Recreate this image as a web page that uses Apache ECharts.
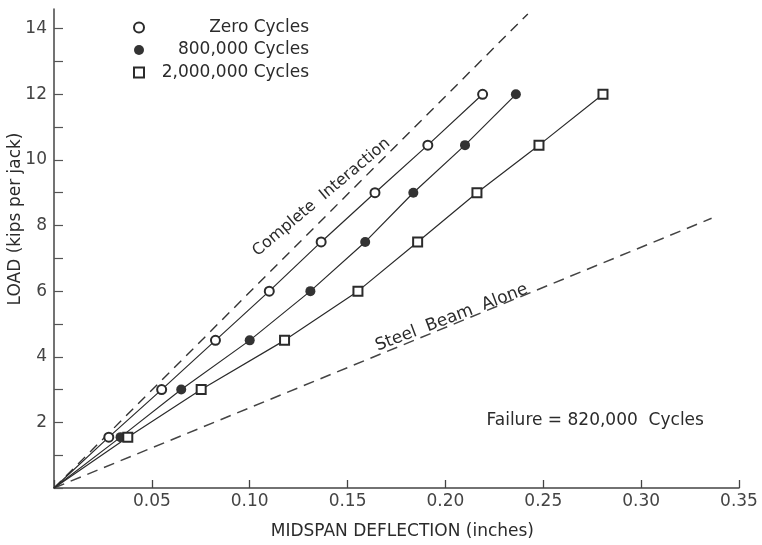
<!DOCTYPE html>
<html>
<head>
<meta charset="utf-8">
<script src="https://cdn.jsdelivr.net/npm/echarts@6/dist/echarts.min.js"></script>
<style>html,body{margin:0;padding:0;background:#fff}#c{width:762px;height:545px}</style>
</head>
<body>
<div id="c"></div>
<script>
// ---- data ----
const seriesNames = ['Zero Cycles', '800,000 Cycles', '2,000,000 Cycles'];
const loadLevels = [1.55, 3.0, 4.5, 6.0, 7.5, 9.0, 10.45, 12.0];
const zeroDefl = [0.028, 0.055, 0.0825, 0.110, 0.1365, 0.164, 0.191, 0.219];
const midDefl = [0.034, 0.065, 0.100, 0.131, 0.159, 0.1836, 0.210, 0.236];
const highDefl = [0.0377, 0.0752, 0.1178, 0.1553, 0.1858, 0.2161, 0.2478, 0.2805];
const completeX = [0, 0.2421];
const completeY = [0, 14.45];
const steelX = [0, 0.336];
const steelY = [0, 8.22];
const xTicks = [0.05, 0.10, 0.15, 0.20, 0.25, 0.30, 0.35];
const yTicks = [2, 4, 6, 8, 10, 12, 14];
const xTitle = 'MIDSPAN DEFLECTION (inches)';
const yTitle = 'LOAD (kips per jack)';
const annotations = [
  {text: 'Complete  Interaction', x: 0.1367, y: 8.86, angle: 40, size: 16},
  {text: 'Steel  Beam  Alone', x: 0.2032, y: 5.19, angle: 21, size: 17}
];
const failureNote = {text: 'Failure = 820,000  Cycles', x: 0.221, y: 2.04};

const FONT = 'DejaVu Sans';
const FS = 17;
const INK = '#2b2b2b';

function curve(xs, ys) {
  const d = [{value: [0, 0], symbol: 'none'}];
  xs.forEach((x, i) => d.push([x, ys[i]]));
  return d;
}
function pairs(xs, ys) { return xs.map((x, i) => [x, ys[i]]); }

const symbols = ['emptyCircle', 'circle', 'emptyRect'];
const sizes = [9, 10, 9];
const defls = [zeroDefl, midDefl, highDefl];

const chart = echarts.init(document.getElementById('c'), null, {renderer: 'canvas'});

const series = seriesNames.map((n, i) => ({
  name: n, type: 'line', data: curve(defls[i], loadLevels),
  symbol: symbols[i], symbolSize: sizes[i], showSymbol: true,
  lineStyle: {color: INK, width: 1.2},
  itemStyle: {color: i === 1 ? '#333' : INK, borderWidth: 1.1},
  emphasis: {disabled: true}, z: 3, animation: false
}));
series.push({
  name: 'complete', type: 'line', data: pairs(completeX, completeY), symbol: 'none',
  lineStyle: {color: '#333', width: 1.4, type: [10, 7]}, animation: false, z: 2
});
series.push({
  name: 'steel', type: 'line', data: pairs(steelX, steelY), symbol: 'none',
  lineStyle: {color: '#444', width: 1.5, type: [11, 7]}, animation: false, z: 2
});

chart.setOption({
  backgroundColor: '#fff',
  animation: false,
  grid: {left: 54, right: 23, top: 9, bottom: 57, containLabel: false},
  legend: {
    orient: 'vertical', left: 128, top: 14, itemGap: 5.5, itemWidth: 10, itemHeight: 10,
    selectedMode: false,
    data: seriesNames.map((n, i) => ({name: n, icon: symbols[i],
      itemStyle: {color: i === 1 ? '#333' : INK, borderWidth: 1.1}})),
    formatter: '{t|{name}}',
    textStyle: {fontFamily: FONT, fontSize: FS, color: INK,
      rich: {t: {width: 160, align: 'right', lineHeight: 18, fontFamily: FONT, fontSize: FS, color: INK}}}
  },
  xAxis: {
    type: 'value', min: 0, max: 0.35, interval: 0.05,
    axisLine: {lineStyle: {color: '#444', width: 1.5}},
    axisTick: {inside: true, length: 8, lineStyle: {color: '#444', width: 1.3}},
    axisLabel: {fontFamily: FONT, fontSize: FS, color: '#444', margin: 5,
      formatter: v => xTicks.some(t => Math.abs(t - v) < 1e-9) ? v.toFixed(2) : ''},
    splitLine: {show: false}
  },
  yAxis: {
    type: 'value', min: 0, max: 14.6, interval: 1,
    axisLine: {show: true, lineStyle: {color: '#444', width: 1.5}},
    axisTick: {inside: true, length: 9, lineStyle: {color: '#555', width: 1.2}},
    axisLabel: {fontFamily: FONT, fontSize: FS, color: '#444', margin: 7, showMaxLabel: false,
      formatter: v => yTicks.indexOf(Math.round(v * 1000) / 1000) >= 0 ? String(v) : ''},
    splitLine: {show: false}
  },
  series: series
});

// text placed via data coordinates
const g = annotations.map(a => {
  const p = chart.convertToPixel({gridIndex: 0}, [a.x, a.y]);
  return {type: 'text', x: p[0], y: p[1], rotation: a.angle * Math.PI / 180,
    style: {text: a.text, fontFamily: FONT, fontSize: a.size, fill: INK, align: 'center', verticalAlign: 'middle'}};
});
const fp = chart.convertToPixel({gridIndex: 0}, [failureNote.x, failureNote.y]);
g.push({type: 'text', x: fp[0], y: fp[1],
  style: {text: failureNote.text, fontFamily: FONT, fontSize: FS, fill: INK, align: 'left', verticalAlign: 'middle'}});
// axis titles
const o = chart.convertToPixel({gridIndex: 0}, [0, 0]);
const xt = chart.convertToPixel({gridIndex: 0}, [0.178, 0]);
g.push({type: 'text', x: xt[0], y: o[1] + 44,
  style: {text: xTitle, fontFamily: FONT, fontSize: FS, fill: INK, align: 'center', verticalAlign: 'middle'}});
const yt = chart.convertToPixel({gridIndex: 0}, [0, 8.2]);
g.push({type: 'text', x: o[0] - 38, y: yt[1], rotation: Math.PI / 2,
  style: {text: yTitle, fontFamily: FONT, fontSize: FS, fill: INK, align: 'center', verticalAlign: 'middle'}});
chart.setOption({graphic: g});
</script>
</body>
</html>
